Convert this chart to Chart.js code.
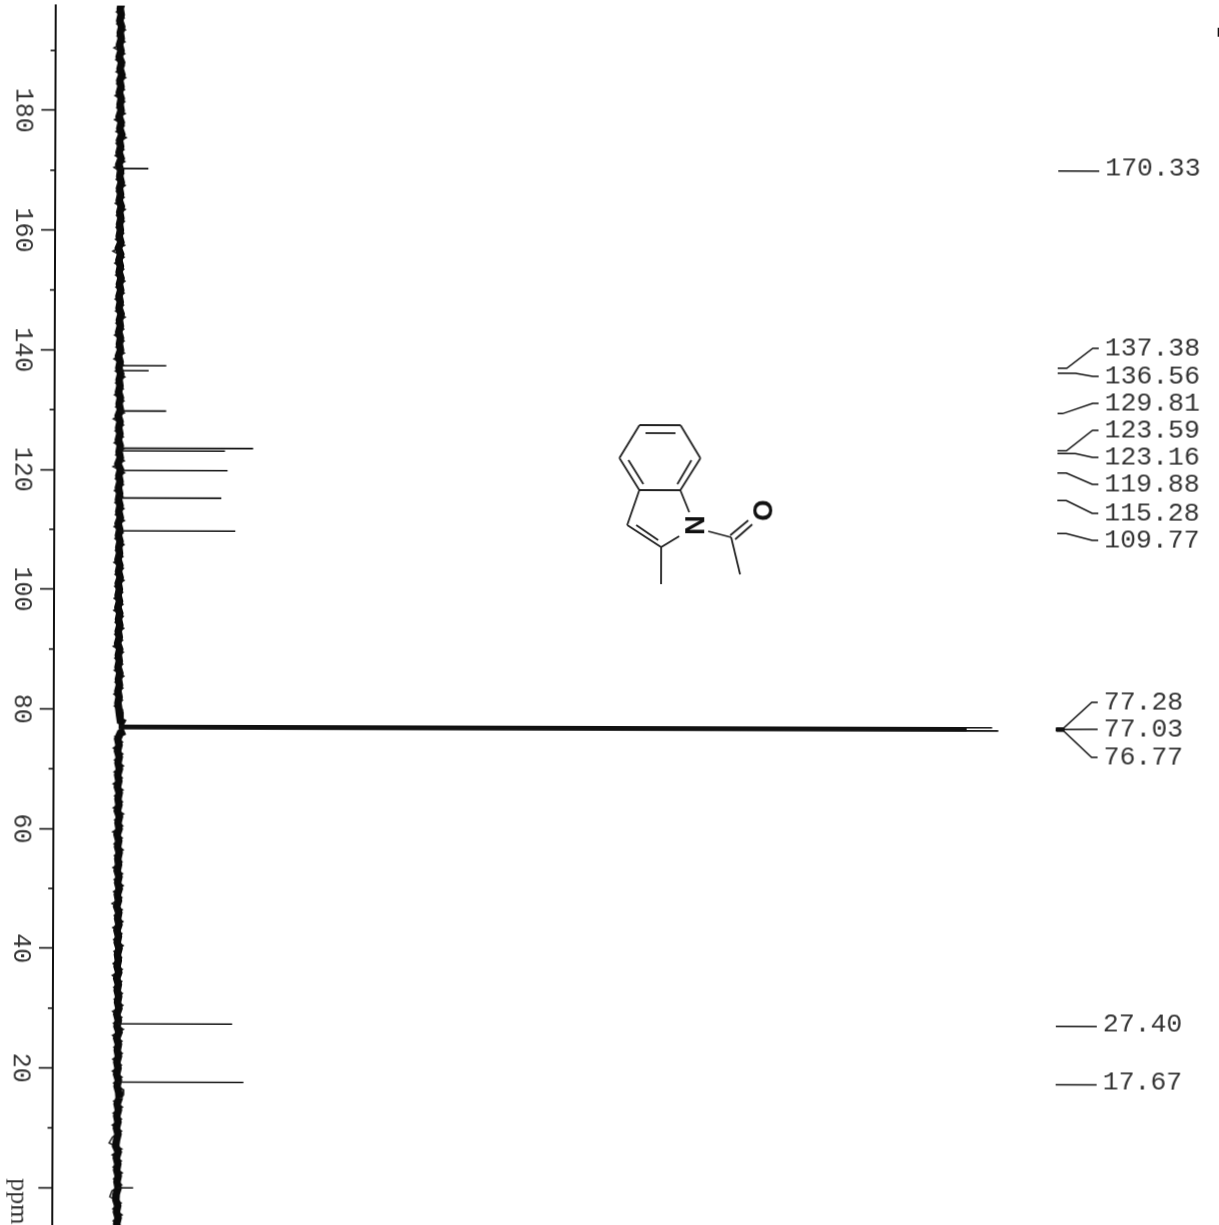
<!DOCTYPE html>
<html>
<head>
<meta charset="utf-8">
<title>13C NMR</title>
<script src="https://cdn.jsdelivr.net/npm/chart.js@4/dist/chart.umd.min.js"></script>
<style>
  html, body { margin: 0; padding: 0; background: #fff; overflow: hidden; width: 1219px; height: 1225px; }
  /* the page was scanned a little crooked */
  #nmr { display: block; transform: rotate(0.164deg); transform-origin: 610px 612px; }
</style>
</head>
<body>
<canvas id="nmr" width="1230" height="1240"></canvas>
<script>
// picked peaks, ppm and relative height
const peakPpm = [170.33, 137.38, 136.56, 129.81, 123.59, 123.16, 119.88, 115.28, 109.77, 77.28, 77.03, 76.77, 27.40, 17.67, 0];
const peakHeight = [3.2, 5.3, 3.3, 5.3, 15.2, 12.0, 12.3, 11.6, 13.2, 99.3, 96.4, 100, 13.0, 14.3, 1.8];
const peakLabels = ['170.33', '137.38', '136.56', '129.81', '123.59', '123.16', '119.88', '115.28', '109.77', '77.28', '77.03', '76.77', '27.40', '17.67', ''];

const majorTicks = [180, 160, 140, 120, 100, 80, 60, 40, 20];
const minorTicks = [190, 170, 150, 130, 110, 90, 70, 50, 30, 10];

// baseline noise above and below the solvent peak
const upperPpm = [198, 197, 196, 195, 194, 193, 192, 191, 190, 189,
  188, 187, 186, 185, 184, 183, 182, 181, 180, 179,
  178, 177, 176, 175, 174, 173, 172, 171, 170, 169,
  168, 167, 166, 165, 164, 163, 162, 161, 160, 159,
  158, 157, 156, 155, 154, 153, 152, 151, 150, 149,
  148, 147, 146, 145, 144, 143, 142, 141, 140, 139,
  138, 137, 136, 135, 134, 133, 132, 131, 130, 129,
  128, 127, 126, 125, 124, 123, 122, 121, 120, 119,
  118, 117, 116, 115, 114, 113, 112, 111, 110, 109,
  108, 107, 106, 105, 104, 103, 102, 101, 100, 99,
  98, 97, 96, 95, 94, 93, 92, 91, 90, 89,
  88, 87, 86, 85, 84, 83, 82, 81, 80, 79,
  78, 77.6];
const upperNoise = [.08, -.05, .06, -.1, .12, -.04, .07, -.12, .05, -.15,
  .12, -.05, .16, -.08, .06, -.12, .09, -.04, .08, -.14,
  .1, -.06, .17, -.09, .04, -.13, .1, -.16, .05, -.05,
  .12, -.08, .05, -.1, .13, -.04, .09, -.06, .04, -.09,
  .1, -.18, .08, -.12, .05, -.09, .12, -.06, .09, -.1,
  .04, -.09, .14, -.05, .06, -.12, .08, -.04, .09, -.14,
  .05, -.09, .12, -.06, .04, -.12, .09, -.05, .1, -.15,
  .06, -.09, .05, -.12, .09, -.04, .1, -.16, .12, -.06,
  .08, -.1, .04, -.09, .09, -.05, .12, -.12, .06, -.08,
  .1, -.04, .05, -.12, .09, -.06, .12, -.09, .04, -.1,
  .06, -.12, .09, -.05, .1, -.08, .04, -.14, .09, -.06,
  .05, -.09, .12, -.04, .08, -.1, .04, -.09, .02, .1,
  .2, .7];
const lowerPpm = [76.3, 76, 75, 74, 73, 72, 71, 70, 69, 68,
  67, 66, 65, 64, 63, 62, 61, 60, 59, 58,
  57, 56, 55, 54, 53, 52, 51, 50, 49, 48,
  47, 46, 45, 44, 43, 42, 41, 40, 39, 38,
  37, 36, 35, 34, 33, 32, 31, 30, 29, 28,
  27, 26, 25, 24, 23, 22, 21, 20, 19, 18,
  17, 16, 15, 14, 13, 12, 11, 10, 9, 8,
  7, 6, 5, 4, 3, 2, 1, 0, -1, -2,
  -3, -4, -5, -6, -7, -8, -9];
const lowerNoise = [.7, .2, -.1, .05, -.12, .08, -.06, .1, -.09, .04,
  -.12, .09, -.05, .06, -.12, .12, -.04, .09, -.14, .05,
  -.08, .1, -.05, .04, -.12, .09, -.06, .12, -.09, .04,
  -.16, .08, -.05, .1, -.12, .05, -.09, .12, -.06, .04,
  -.1, .09, -.14, .05, -.08, .09, -.04, .12, -.12, .06,
  -.09, .14, -.12, .08, -.05, .09, -.1, .04, -.12, .09,
  -.06, .12, .18, -.05, .1, -.09, .05, -.12, .06, -.1,
  -.2, .09, -.12, .05, -.08, .1, -.04, .09, -.12, -.16,
  .05, -.09, .1, -.06, .08, -.09, .04];

// thin spikes sticking out of the noise band
const spikePpm = [197.5, 196.5, 195.5, 194.5, 193.5, 192.5, 191.5, 190.5, 189.5, 188.5,
  187.5, 186.5, 185.5, 184.5, 183.5, 182.5, 181.5, 180.5, 179.5, 178.5,
  177.5, 176.5, 175.5, 174.5, 173.5, 172.5, 171.5, 170.5, 169.5, 168.5,
  167.5, 166.5, 165.5, 164.5, 163.5, 162.5, 161.5, 160.5, 159.5, 158.5,
  157.5, 156.5, 155.5, 154.5, 153.5, 152.5, 151.5, 150.5, 149.5, 148.5,
  147.5, 146.5, 145.5, 144.5, 143.5, 142.5, 141.5, 140.5, 139.5, 138.5,
  137.5, 136.5, 135.5, 134.5, 133.5, 132.5, 131.5, 130.5, 129.5, 128.5,
  127.5, 126.5, 125.5, 124.5, 123.5, 122.5, 121.5, 120.5, 119.5, 118.5,
  117.5, 116.5, 115.5, 114.5, 113.5, 112.5, 111.5, 110.5, 109.5, 108.5,
  107.5, 106.5, 105.5, 104.5, 103.5, 102.5, 101.5, 100.5, 99.5, 98.5,
  97.5, 96.5, 95.5, 94.5, 93.5, 92.5, 91.5, 90.5, 89.5, 88.5,
  87.5, 86.5, 85.5, 84.5, 83.5, 82.5, 81.5, 80.5, 79.5, 78.5,
  77.5, 76.5, 75.5, 74.5, 73.5, 72.5, 71.5, 70.5, 69.5, 68.5,
  67.5, 66.5, 65.5, 64.5, 63.5, 62.5, 61.5, 60.5, 59.5, 58.5,
  57.5, 56.5, 55.5, 54.5, 53.5, 52.5, 51.5, 50.5, 49.5, 48.5,
  47.5, 46.5, 45.5, 44.5, 43.5, 42.5, 41.5, 40.5, 39.5, 38.5,
  37.5, 36.5, 35.5, 34.5, 33.5, 32.5, 31.5, 30.5, 29.5, 28.5,
  27.5, 26.5, 25.5, 24.5, 23.5, 22.5, 21.5, 20.5, 19.5, 18.5,
  17.5, 16.5, 15.5, 14.5, 13.5, 12.5, 11.5, 10.5, 9.5, 8.5,
  7.5, 6.5, 5.5, 4.5, 3.5, 2.5, 1.5, 0.5, -0.5, -1.5,
  -2.5, -3.5, -4.5, -5.5, -6.5, -7.5, -8.5];
const spikeNoise = [.45, -.5, .4, -.45, .55, -.4, .5, -.75, .48, -.55,
  .42, -.5, .6, -.44, .46, -.62, .5, -.42, .56, -.66,
  .44, -.5, .68, -.48, .42, -.58, .52, -.72, .4, -.46,
  .58, -.44, .46, -.56, .6, -.42, .5, -.46, .42, -.52,
  .54, -.82, .48, -.6, .44, -.5, .58, -.46, .5, -.54,
  .42, -.5, .62, -.44, .46, -.6, .5, -.42, .54, -.66,
  .44, -.5, .6, -.46, .42, -.58, .5, -.44, .56, -.7,
  .46, -.5, .44, -.6, .5, -.42, .56, -.72, .6, -.46,
  .48, -.56, .42, -.5, .54, -.44, .6, -.58, .46, -.48,
  .56, -.42, .44, -.6, .5, -.46, .58, -.5, .42, -.56,
  .46, -.6, .5, -.44, .56, -.48, .42, -.64, .52, -.46,
  .44, -.52, .58, -.42, .48, -.56, .42, -.5, .46, .5,
  NaN, NaN, -.5, .44, -.6, .48, -.46, .56, -.5, .42,
  -.6, .52, -.44, .46, -.58, .6, -.42, .5, -.64, .44,
  -.48, .56, -.44, .42, -.6, .5, -.46, .58, -.52, .42,
  -.7, .48, -.44, .56, -.6, .44, -.5, .6, -.46, .42,
  -.56, .5, -.64, .44, -.48, .52, -.42, .58, -.6, .46,
  -.5, .64, -.6, .48, -.44, .52, -.56, .42, -.6, .5,
  -.46, .58, .68, -.44, .56, -.5, .44, -.6, .46, -.56,
  -.95, .5, -.6, .44, -.48, .56, -.42, .5, -.6, -.85,
  .44, -.5, .56, -.46, .48, -.52, .42];

const zip = (ppm, vals) => ppm.map((p, i) => ({ x: vals[i], y: p }));

// every peak is a stick from the baseline, NaN breaks the line
const sticks = [];
peakPpm.forEach((p, i) => {
  sticks.push({ x: 0, y: p }, { x: peakHeight[i], y: p }, { x: NaN, y: NaN });
});
// the middle solvent line prints much heavier
const solventStick = [{ x: 0, y: peakPpm[10] }, { x: peakHeight[10], y: peakPpm[10] }];

// labels, leaders and the structure, all on the canvas
const annotate = {
  id: 'annotate',
  afterDraw(chart) {
    const ctx = chart.ctx;
    const yAxis = chart.scales.y;
    const left = chart.chartArea.left;
    ctx.save();

    // minor ticks
    ctx.strokeStyle = '#111';
    ctx.lineWidth = 1.6;
    minorTicks.forEach(t => {
      const y = yAxis.getPixelForValue(t);
      ctx.beginPath();
      ctx.moveTo(left - 5, y);
      ctx.lineTo(left, y);
      ctx.stroke();
    });

    // axis numbers, turned with the spectrum
    ctx.fillStyle = '#333';
    ctx.textAlign = 'center';
    ctx.textBaseline = 'middle';
    ctx.font = '25px "Liberation Mono"';
    majorTicks.forEach(t => {
      ctx.save();
      ctx.translate(22, yAxis.getPixelForValue(t));
      ctx.rotate(Math.PI / 2);
      ctx.fillText(String(t), 0, 0);
      ctx.restore();
    });
    ctx.save();
    ctx.translate(20, 1203);
    ctx.rotate(Math.PI / 2);
    ctx.font = '26px "Liberation Serif"';
    ctx.fillText('ppm', 0, 0);
    ctx.restore();

    // peak labels on the right
    const labelY = [167, 347, 375, 402, 429, 456, 483, 512, 539, 701, 728, 756, 1023, 1081];
    const bendX = [0, 1066, 1075, 1062, 1066, 1075, 1066, 1066, 1066, 1064, 1064, 1064, 0, 0];
    ctx.font = '26.5px "Liberation Mono"';
    ctx.textAlign = 'left';
    ctx.lineWidth = 1.5;
    labelY.forEach((ly, i) => {
      const py = yAxis.getPixelForValue(peakPpm[i]);
      ctx.beginPath();
      ctx.moveTo(1057, py);
      if (bendX[i]) {
        ctx.lineTo(bendX[i], py);
        ctx.lineTo(1092, ly);
        ctx.lineTo(1098, ly);
      } else {
        ctx.lineTo(1098, py);
      }
      ctx.stroke();
      ctx.fillText(peakLabels[i], 1104, ly);
    });
    // solvent stub
    ctx.lineWidth = 4;
    ctx.beginPath();
    ctx.moveTo(1056, yAxis.getPixelForValue(77.03));
    ctx.lineTo(1065, yAxis.getPixelForValue(77.03));
    ctx.stroke();

    // speck on the scan, top right
    ctx.lineWidth = 2;
    ctx.beginPath();
    ctx.moveTo(1217, 26);
    ctx.lineTo(1217, 35);
    ctx.stroke();

    // N-acetyl-2-methylindole
    const bonds = [
      [639, 425, 680, 425], [680, 425, 700, 458], [700, 458, 680, 490], [680, 490, 639, 490],
      [639, 490, 619, 458], [619, 458, 639, 425],
      [645, 433, 675, 433], [628, 460, 643, 484], [691, 460, 677, 484],
      [639, 490, 627, 525], [627, 525, 661, 547], [636, 525, 658, 540],
      [661, 547, 679, 536], [680, 490, 689, 512], [661, 547, 661, 584],
      [708, 531, 731, 537], [731, 537, 740, 574], [730, 535, 748, 520], [735, 539, 752, 524]
    ];
    ctx.strokeStyle = '#222';
    ctx.lineWidth = 1.8;
    bonds.forEach(b => {
      ctx.beginPath();
      ctx.moveTo(b[0], b[1]);
      ctx.lineTo(b[2], b[3]);
      ctx.stroke();
    });
    ctx.textAlign = 'center';
    ctx.fillStyle = '#111';
    ctx.font = 'bold 27px "Liberation Sans"';
    [['N', 692, 525], ['O', 760, 510]].forEach(a => {
      ctx.save();
      ctx.translate(a[1], a[2]);
      ctx.rotate(Math.PI / 2);
      ctx.fillText(a[0], 0, 0);
      ctx.restore();
    });
    ctx.restore();
  }
};

new Chart(document.getElementById('nmr').getContext('2d'), {
  type: 'scatter',
  data: {
    datasets: [
      { data: sticks, showLine: true, borderColor: '#111', borderWidth: 1.6, pointRadius: 0, spanGaps: false },
      { data: solventStick, showLine: true, borderColor: '#000', borderWidth: 4, pointRadius: 0 },
      { data: zip(upperPpm, upperNoise), showLine: true, borderColor: '#0a0a0a', borderWidth: 7.5, pointRadius: 0 },
      { data: zip(lowerPpm, lowerNoise), showLine: true, borderColor: '#0a0a0a', borderWidth: 7.5, pointRadius: 0 },
      { data: zip(spikePpm, spikeNoise), showLine: true, borderColor: '#111', borderWidth: 1.4, pointRadius: 0, spanGaps: false }
    ]
  },
  options: {
    responsive: false,
    animation: false,
    layout: { padding: { top: 7, right: 0, bottom: 0, left: 0 } },
    plugins: { legend: { display: false }, tooltip: { enabled: false } },
    scales: {
      x: {
        type: 'linear',
        display: false,
        min: -7.386,
        max: 126.3
      },
      y: {
        type: 'linear',
        position: 'left',
        min: -8.47,
        max: 197.54,
        afterFit: s => { s.width = 54; },
        ticks: { display: false, stepSize: 20, includeBounds: false },
        grid: { drawOnChartArea: false, drawTicks: true, tickLength: 14, tickColor: '#111', tickWidth: 1.6 },
        border: { display: true, color: '#111', width: 2 }
      }
    }
  },
  plugins: [annotate]
});
</script>
</body>
</html>
